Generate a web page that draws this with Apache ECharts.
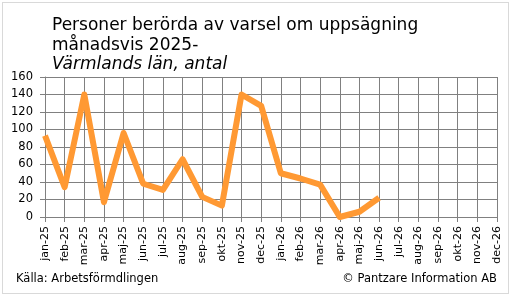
<!DOCTYPE html>
<html>
<head>
<meta charset="utf-8">
<script src="https://cdn.jsdelivr.net/npm/echarts@6/dist/echarts.min.js"></script>
<style>
  html, body { margin: 0; padding: 0; background: #fff; }
  #frame { position: absolute; left: 2px; top: 2px; width: 505px; height: 290px; border: 1px solid #d9d9d9; }
  #chart { position: absolute; left: 0; top: 0; width: 512px; height: 297px; }
</style>
</head>
<body>
<div id="frame"></div>
<div id="chart"></div>
<script>
const months = ['jan-25','feb-25','mar-25','apr-25','maj-25','jun-25','jul-25','aug-25','sep-25','okt-25','nov-25','dec-25',
  'jan-26','feb-26','mar-26','apr-26','maj-26','jun-26','jul-26','aug-26','sep-26','okt-26','nov-26','dec-26'];
const varsel = [93, 34, 140, 17, 96, 38, 31, 66, 23, 13, 140, 127, 50, 44, 37, 0, 6, 22];

const font = 'DejaVu Sans';
let chart = echarts.init(document.getElementById('chart'));
chart.setOption({
  animation: false,
  title: [
    { text: 'Personer berörda av varsel om uppsägning\nmånadsvis 2025-', left: 52, top: 16, padding: 0,
      textStyle: { fontFamily: font, fontSize: 17, fontWeight: 'normal', color: '#000', lineHeight: 20 } },
    { text: 'Värmlands län, antal', left: 52, top: 56, padding: 0,
      textStyle: { fontFamily: font, fontSize: 17, fontWeight: 'normal', fontStyle: 'italic', color: '#000' } }
  ],
  grid: { left: 45, right: 15, top: 77, bottom: 80 },
  xAxis: {
    type: 'category',
    data: months,
    boundaryGap: false,
    axisLine: { lineStyle: { color: '#808080' } },
    axisTick: { show: true, length: 5, lineStyle: { color: '#808080' } },
    splitLine: { show: true, lineStyle: { color: '#808080', width: 1 } },
    axisLabel: { rotate: 90, interval: 0, fontFamily: font, fontSize: 11, color: '#000', margin: 9 }
  },
  yAxis: {
    type: 'value',
    min: 0, max: 160, interval: 20,
    axisLine: { show: true, lineStyle: { color: '#808080' } },
    axisTick: { show: true, length: 5, lineStyle: { color: '#808080' } },
    splitLine: { lineStyle: { color: '#808080', width: 1 } },
    axisLabel: { fontFamily: font, fontSize: 11.5, color: '#000', margin: 12 }
  },
  series: [{
    type: 'line',
    data: varsel,
    symbol: 'none',
    lineStyle: { color: '#FF9933', width: 6, join: 'round' },
    itemStyle: { color: '#FF9933' }
  }],
  graphic: [
    { type: 'text', left: 16, top: 273, style: { text: 'Källa: Arbetsförmdlingen', font: '11.5px "DejaVu Sans"', fill: '#000' } },
    { type: 'text', right: 15, top: 273, style: { text: '© Pantzare Information AB', font: '11.5px "DejaVu Sans"', fill: '#000' } }
  ]
});
</script>
</body>
</html>
